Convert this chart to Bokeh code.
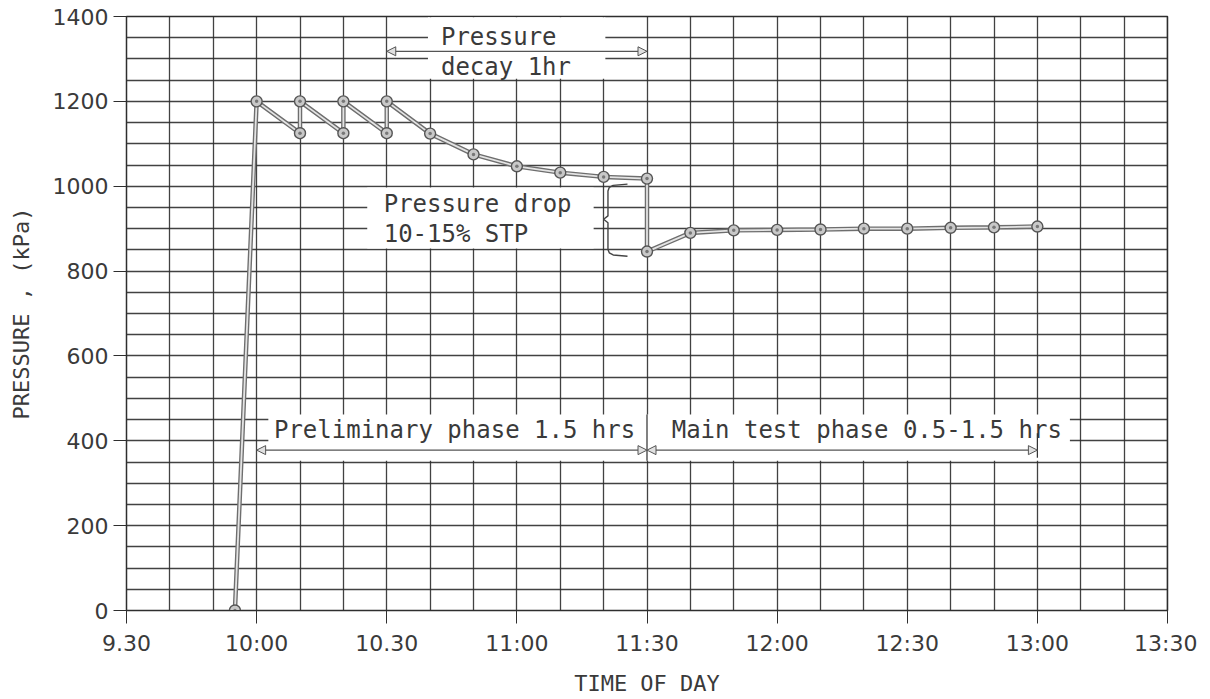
import numpy as np
from bokeh.plotting import figure
from bokeh.models import Range1d, FixedTicker, Arrow, NormalHead, ColumnDataSource
from bokeh.core.properties import value
from bokeh.embed import file_html
from bokeh.resources import INLINE

# ---------------- data ----------------
times = ["9:55", "10:00", "10:10", "10:10", "10:20", "10:20", "10:30", "10:30",
         "10:40", "10:50", "11:00", "11:10", "11:20", "11:30", "11:30", "11:40",
         "11:50", "12:00", "12:10", "12:20", "12:30", "12:40", "12:50", "13:00"]
pressure_kpa = [0, 1200, 1125, 1200, 1125, 1200, 1125, 1200,
                1124, 1075, 1047, 1032, 1022, 1018, 846, 890,
                896, 897, 898, 900, 900, 902, 903, 905]

tick_times = ["9:30", "10:00", "10:30", "11:00", "11:30", "12:00", "12:30", "13:00", "13:30"]
tick_labels = ["9.30", "10:00", "10.30", "11:00", "11:30", "12:00", "12:30", "13:00", "13:30"]
y_ticks = [0, 200, 400, 600, 800, 1000, 1200, 1400]

# annotations
note_text = ["Pressure", "decay 1hr", "Pressure drop", "10-15% STP",
             "Preliminary phase 1.5 hrs", "Main test phase 0.5-1.5 hrs"]
note_time = ["10:42.5", "10:42.5", "10:29.3", "10:29.3", "10:04", "11:35.7"]
note_kpa = [1352, 1282, 957, 887, 426, 426]

mask_left = ["10:39.5", "10:25.5", "10:02.7"]
mask_right = ["11:20.4", "11:17.7", "13:07.5"]
mask_bottom = [1253, 853, 353]
mask_top = [1398, 997, 462]

decay_span = ("10:30", "11:30")
decay_arrow_kpa = 1318
phase_spans = [("10:00", "11:30"), ("11:30", "13:00")]
phase_arrow_kpa = 378

brace_time = "11:21"
brace_top, brace_mid, brace_bottom = 1005, 922, 835


def hrs(t):
    h, m = t.split(":")
    return int(h) + float(m) / 60.0


x = [hrs(t) for t in times]
FONT = "DejaVu Sans"
NOTE_FONT = "DejaVu Sans Mono"
INK = "#3a3a3a"
GRID = "#2e2e2e"

p = figure(frame_width=1041, frame_height=594, output_backend="svg",
           toolbar_location=None, x_range=Range1d(hrs(tick_times[0]), hrs(tick_times[-1])),
           y_range=Range1d(0, 1400))
p.min_border_left = 126
p.min_border_right = 30
p.min_border_top = 16
p.min_border_bottom = 84
p.background_fill_color = "white"
p.border_fill_color = "white"
p.outline_line_color = GRID
p.outline_line_width = 1.5

# grid
p.xgrid.ticker = FixedTicker(ticks=list(np.arange(hrs(tick_times[0]), hrs(tick_times[-1]) + 1e-6, 1 / 6)))
p.ygrid.ticker = FixedTicker(ticks=list(np.arange(0, 1401, 50)))
for g in (p.xgrid, p.ygrid):
    g.grid_line_color = GRID
    g.grid_line_width = 1.3
    g.grid_line_alpha = 0.9

# axes
p.xaxis.ticker = FixedTicker(ticks=[hrs(t) for t in tick_times])
p.xaxis.major_label_overrides = {hrs(t): lab for t, lab in zip(tick_times, tick_labels)}
p.yaxis.ticker = FixedTicker(ticks=y_ticks)
for ax in (p.xaxis, p.yaxis):
    ax.major_tick_out = 13
    ax.major_tick_in = 0
    ax.minor_tick_out = 0
    ax.minor_tick_in = 0
    ax.major_tick_line_color = GRID
    ax.axis_line_color = GRID
    ax.major_label_text_font = FONT
    ax.major_label_text_font_size = "22px"
    ax.major_label_text_color = INK
    ax.axis_label_text_font = NOTE_FONT
    ax.axis_label_text_font_size = "22px"
    ax.axis_label_text_font_style = "normal"
    ax.axis_label_text_color = INK
p.xaxis.axis_label = "TIME OF DAY"
p.yaxis.axis_label = "PRESSURE , (kPa)"
p.xaxis.major_label_standoff = 7
p.xaxis.axis_label_standoff = 12
p.yaxis.major_label_standoff = 5
p.yaxis.axis_label_standoff = 16

# white masks behind notes
p.quad(left=[hrs(t) for t in mask_left], right=[hrs(t) for t in mask_right],
       bottom=mask_bottom, top=mask_top, fill_color="white", line_color=None)

# divider lines through the phase box
p.segment(x0=[hrs(phase_spans[0][1]), hrs(phase_spans[1][1])], y0=[mask_bottom[2], 360],
          x1=[hrs(phase_spans[0][1]), hrs(phase_spans[1][1])], y1=[mask_top[2], 418],
          line_color=GRID, line_width=1.2)

# arrows
def add_arrow(t0, t1, yv):
    p.add_layout(Arrow(
        start=NormalHead(size=9, fill_color="#e0e0e0", line_color="#555", line_width=1),
        end=NormalHead(size=9, fill_color="#e0e0e0", line_color="#555", line_width=1),
        x_start=hrs(t0), y_start=yv, x_end=hrs(t1), y_end=yv,
        line_color="#555", line_width=1.2))

add_arrow(decay_span[0], decay_span[1], decay_arrow_kpa)
for a, b in phase_spans:
    add_arrow(a, b, phase_arrow_kpa)

# brace
bx = hrs(brace_time)
dx = 1 / 60.0
brace_x = [bx + 4.5 * dx, bx + 1.2 * dx, bx + 0.3 * dx, bx, bx, bx - 1.0 * dx,
           bx, bx, bx + 0.3 * dx, bx + 1.2 * dx, bx + 4.5 * dx]
brace_y = [brace_top, brace_top - 3, brace_top - 8, brace_top - 16, brace_mid + 8, brace_mid,
           brace_mid - 8, brace_bottom + 16, brace_bottom + 8, brace_bottom + 3, brace_bottom]
p.line(brace_x, brace_y, line_color="#444", line_width=1.4)

# data line (double-stroke look)
p.line(x, pressure_kpa, line_color="#6e6e6e", line_width=4.5)
p.line(x, pressure_kpa, line_color="#e4e4e4", line_width=1.8)
p.scatter(x, pressure_kpa, marker="circle", size=11, fill_color="#c8c8c8",
          line_color="#555", line_width=1.4)
p.scatter(x, pressure_kpa, marker="circle", size=3.5, fill_color="#777", line_color=None)

# notes
src = ColumnDataSource(dict(x=[hrs(t) for t in note_time], y=note_kpa, text=note_text))
p.text(x="x", y="y", text="text", source=src, text_font=value(NOTE_FONT),
       text_font_size="24px", text_color=INK, text_align="left", text_baseline="middle")

open("out.html", "w").write(file_html(p, INLINE))
